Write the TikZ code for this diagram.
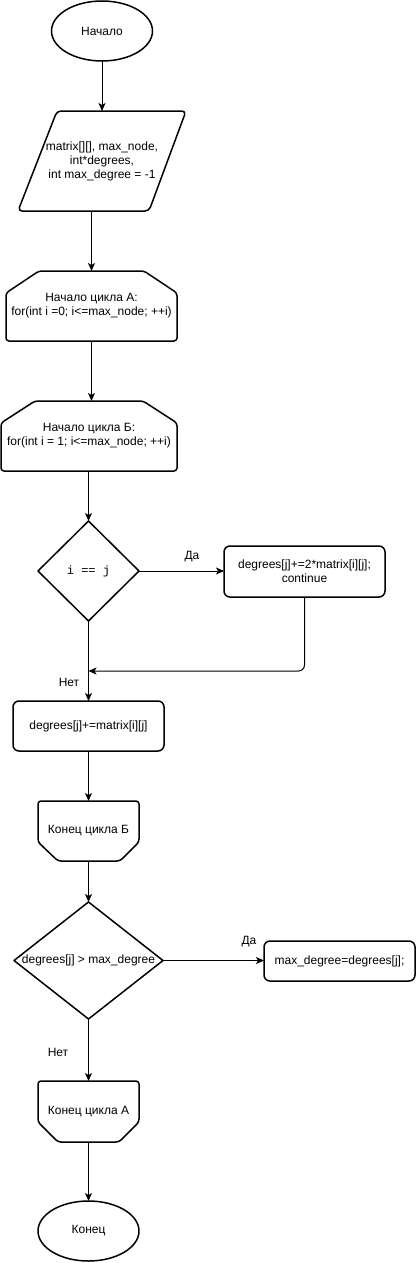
\documentclass[tikz,border=0pt]{standalone}
\usepackage{fontspec}
\setmainfont{Liberation Sans}
\setmonofont{Liberation Mono}
\usetikzlibrary{shapes.geometric,arrows.meta,calc}
\begin{document}
\begin{tikzpicture}[x=1pt,y=-1pt,
  every node/.style={font=\fontsize{12}{14}\selectfont, align=center, inner sep=0pt, outer sep=0pt},
  outl/.style={line width=1.5pt, line join=round},
  arr/.style={line width=1pt, -{Stealth[length=8pt,width=7pt,inset=2pt]}},
  rbox/.style={draw, outl, rounded corners=6pt, rectangle}]
\useasboundingbox (0,0) rectangle (416,1263);

% nodes
\node[ellipse, draw, outl, minimum width=101pt, minimum height=60pt] (start) at (102,31) {Начало};

\node[minimum width=168pt, minimum height=100pt] (inp) at (102,161) {matrix[][], max\_node,\\int*degrees,\\ int max\_degree = -1};
\draw[outl, rounded corners=4pt] (inp.north) -- (inp.north east) -- ($(inp.south east)+(-37,0)$) -- (inp.south west) -- ($(inp.north west)+(39,0)$) -- cycle;

\node[minimum width=171pt, minimum height=70pt] (la) at (91.5,306) {Начало цикла А:\\for(int i =0; i<=max\_node; ++i)};
\draw[outl, rounded corners=3pt] (la.north) -- ($(la.north east)+(-33,0)$) -- ($(la.north east)+(0,22)$) -- (la.south east) -- (la.south west) -- ($(la.north west)+(0,22)$) -- ($(la.north west)+(33,0)$) -- cycle;

\node[minimum width=176pt, minimum height=70pt] (lb) at (89,436) {Начало цикла Б:\\for(int i = 1; i<=max\_node; ++i)};
\draw[outl, rounded corners=3pt] (lb.north) -- ($(lb.north east)+(-34,0)$) -- ($(lb.north east)+(0,22)$) -- (lb.south east) -- (lb.south west) -- ($(lb.north west)+(0,22)$) -- ($(lb.north west)+(34,0)$) -- cycle;

\node[minimum width=101pt, minimum height=100pt] (d1) at (88.5,571) {\ttfamily i == j};
\draw[outl] (d1.north) -- (d1.east) -- (d1.south) -- (d1.west) -- cycle;

\node[rbox, minimum width=161pt, minimum height=51pt] (b1) at (304.5,571.5) {degrees[j]+=2*matrix[i][j];\\continue};

\coordinate (mg) at (88.5,671);

\node[rbox, minimum width=151pt, minimum height=50pt] (b2) at (88.5,726) {degrees[j]+=matrix[i][j]};

\node[minimum width=101pt, minimum height=60pt] (eb) at (88.5,831) {\raisebox{-2pt}{Конец цикла Б}};
\draw[outl, rounded corners=3pt] (eb.north) -- (eb.north east) -- ($(eb.south east)+(0,-19)$) -- ($(eb.south east)+(-19,0)$) -- ($(eb.south west)+(20,0)$) -- ($(eb.south west)+(0,-19)$) -- (eb.north west) -- cycle;

\node[minimum width=149pt, minimum height=117pt] (d2) at (88.5,960.5) {degrees[j] > max\_degree};
\draw[outl] (d2.north) -- (d2.east) -- (d2.south) -- (d2.west) -- cycle;

\node[rbox, minimum width=151pt, minimum height=40pt] (b3) at (339.5,961) {max\_degree=degrees[j];};

\node[minimum width=101pt, minimum height=61pt] (ea) at (88.5,1111.5) {Конец цикла А};
\draw[outl, rounded corners=3pt] (ea.north) -- (ea.north east) -- ($(ea.south east)+(0,-20)$) -- ($(ea.south east)+(-20,0)$) -- ($(ea.south west)+(20,0)$) -- ($(ea.south west)+(0,-20)$) -- (ea.north west) -- cycle;

\node[ellipse, draw, outl, minimum width=101pt, minimum height=60pt] (end) at (88.5,1231) {Конец};

% labels
\node (yes1) at (192,557) {Да};
\node (no1) at (69,682) {Нет};
\node (yes2) at (249,942) {Да};
\node (no2) at (58,1052) {Нет};

% connectors
\draw[arr] (start.south) -- (start.south |- inp.north);
\draw[arr] (inp.south -| la.north) -- (la.north);
\draw[arr] (la.south) -- (la.south |- lb.north);
\draw[arr] (d1.north |- lb.south) -- (d1.north);
\draw[arr] (d1.east) -- (d1.east -| b1.west);
\draw[arr, rounded corners=6pt] (b1.south) |- (mg);
\draw[arr] (d1.south) -- (b2.north);
\draw[arr] (b2.south) -- (eb.north);
\draw[arr] (eb.south) -- (d2.north);
\draw[arr] (d2.east) -- (d2.east -| b3.west);
\draw[arr] (d2.south) -- (ea.north);
\draw[arr] (ea.south) -- (end.north);
\end{tikzpicture}
\end{document}
